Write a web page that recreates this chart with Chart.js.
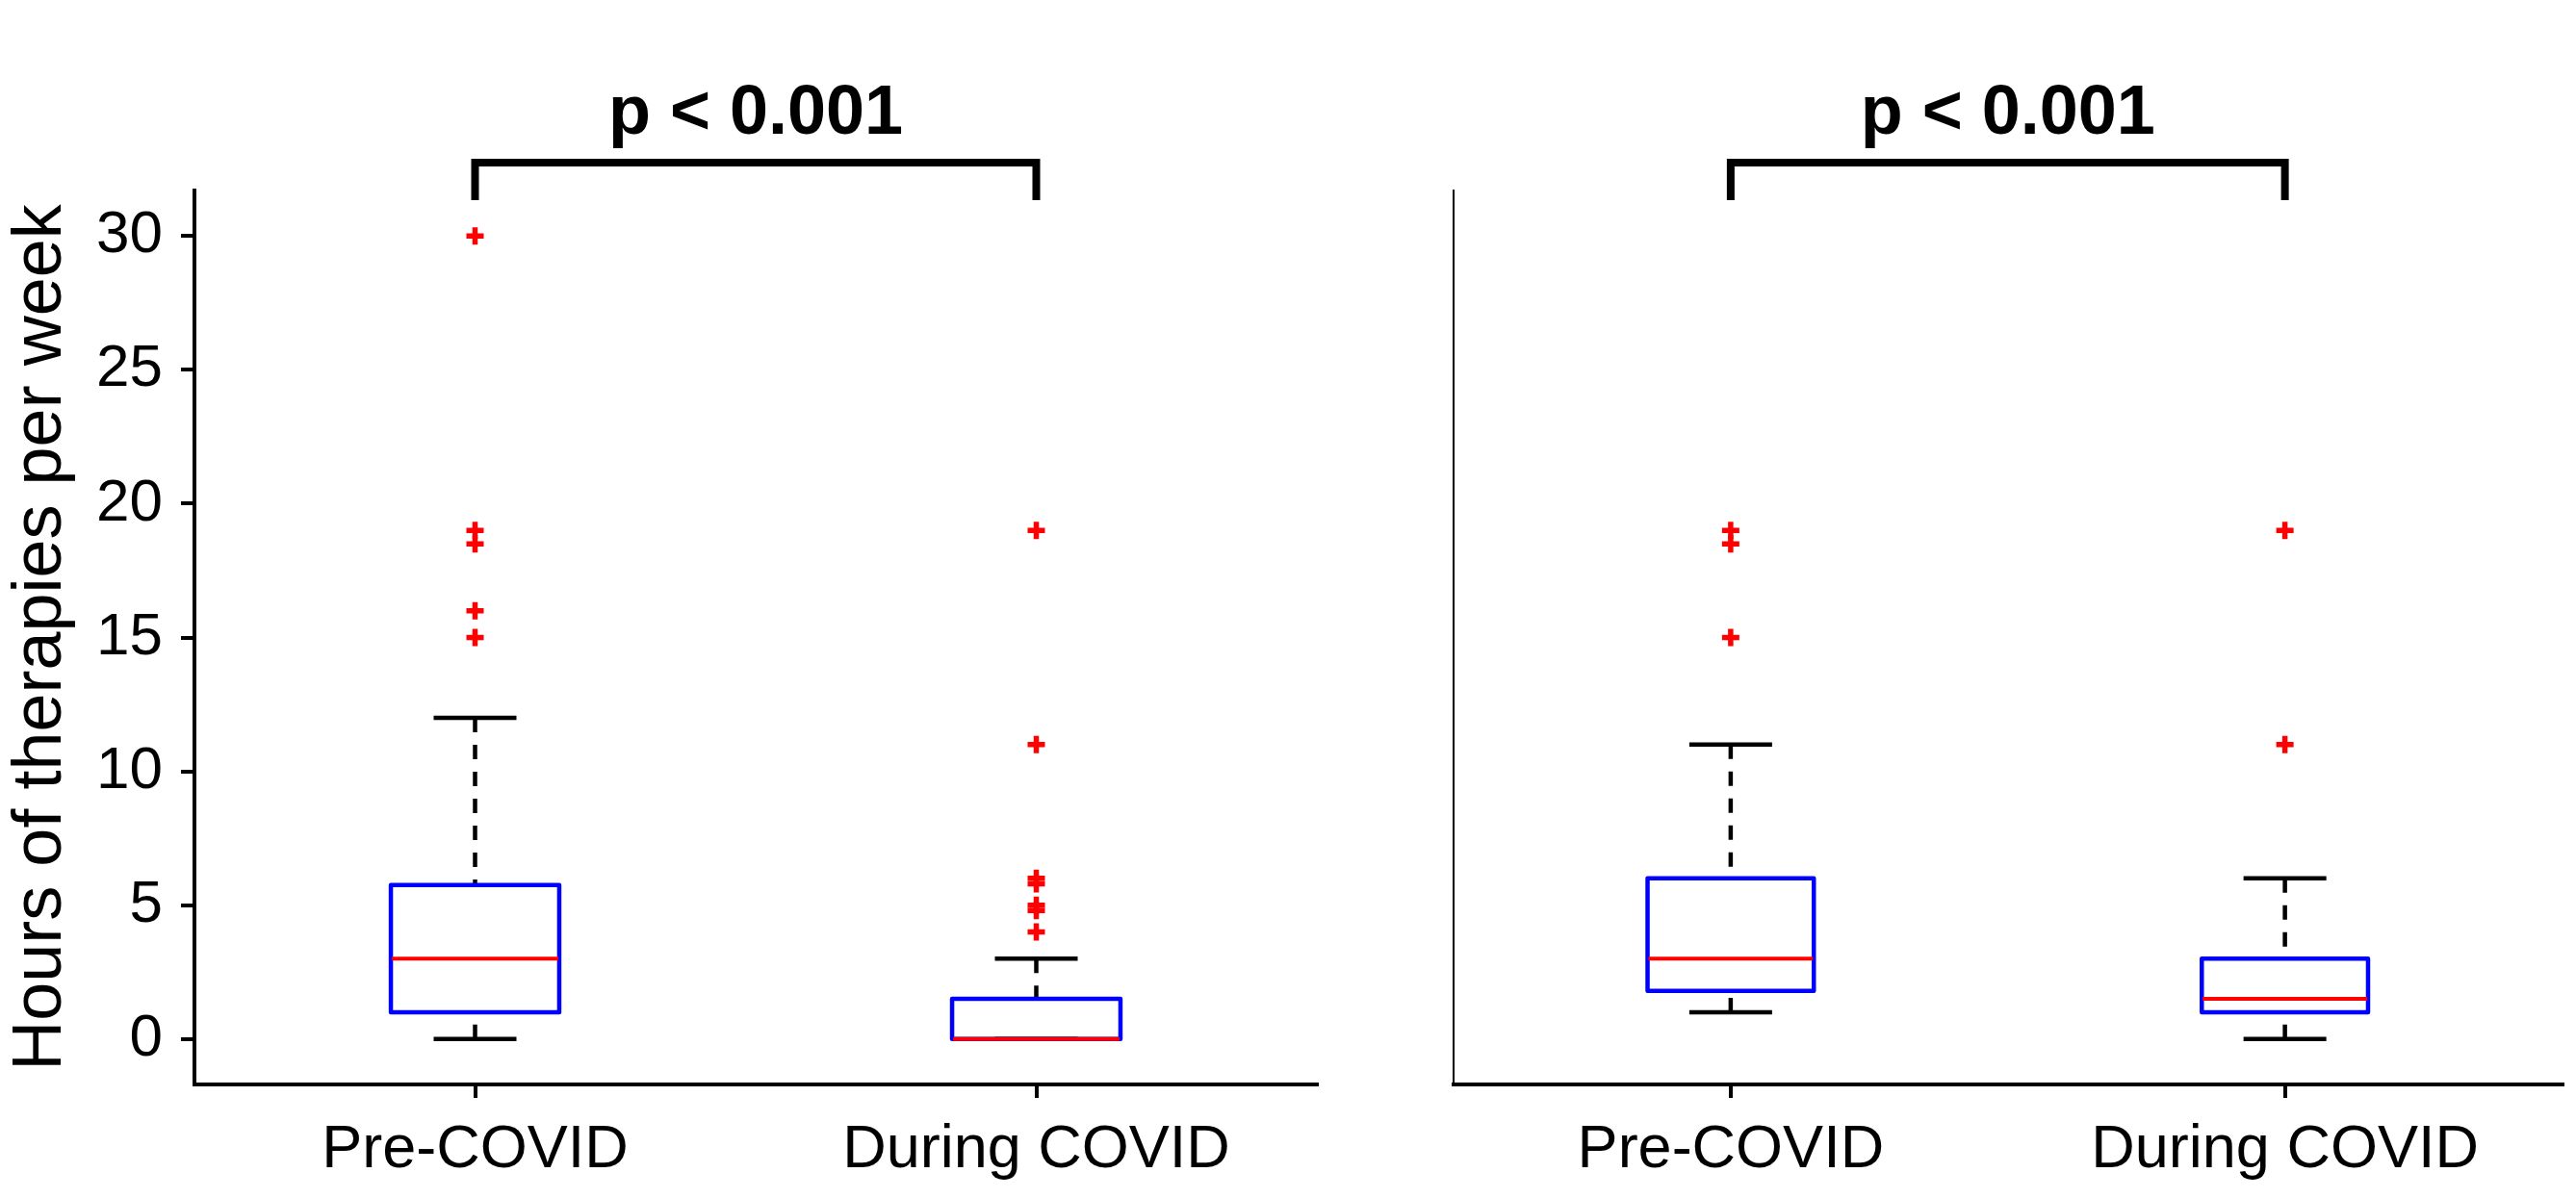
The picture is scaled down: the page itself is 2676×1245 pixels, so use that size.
<!DOCTYPE html>
<html>
<head>
<meta charset="utf-8">
<script src="https://cdn.jsdelivr.net/npm/chart.js@4/dist/chart.umd.min.js"></script>
<style>
  body { margin: 0; background: #fff; }
  #leftWrap { position: absolute; left: 0; top: 0; }
  #rightWrap { position: absolute; left: 1400px; top: 0; }
</style>
</head>
<body>
<div id="leftWrap"><canvas id="leftChart" width="1400" height="1245"></canvas></div>
<div id="rightWrap"><canvas id="rightChart" width="1276" height="1245"></canvas></div>
<script>
const categories = ['Pre-COVID', 'During COVID'];
const yTicks = [0, 5, 10, 15, 20, 25, 30];
const pLabel = 'p < 0.001';

// left panel
const leftLow = [0, 0];
const leftQ1 = [1, 0];
const leftMedian = [3, 0];
const leftQ3 = [5.75, 1.5];
const leftHigh = [12, 3];
const leftOutPre = [30, 19, 18.5, 16, 15];
const leftOutDuring = [19, 11, 6, 5.8, 5, 4.8, 4];

// right panel
const rightLow = [1, 0];
const rightQ1 = [1.8, 1];
const rightMedian = [3, 1.5];
const rightQ3 = [6, 3];
const rightHigh = [11, 6];
const rightOutPre = [19, 18.5, 15];
const rightOutDuring = [19, 11];

Chart.defaults.font.family = '"Liberation Sans", Arial, sans-serif';
Chart.defaults.color = '#000';

// whiskers, caps, box outline, medians and the significance bracket
const boxParts = {
  id: 'boxParts',
  beforeDatasetsDraw(chart, args, opts) {
    const ctx = chart.ctx;
    const x = chart.scales.x, y = chart.scales.y;
    ctx.save();
    ctx.strokeStyle = '#000';
    ctx.lineWidth = 4.5;
    opts.low.forEach((lo, i) => {
      const px = x.getPixelForValue(i);
      ctx.setLineDash([15, 13]);
      ctx.beginPath();
      ctx.moveTo(px, y.getPixelForValue(opts.high[i]));
      ctx.lineTo(px, y.getPixelForValue(opts.q3[i]));
      ctx.moveTo(px, y.getPixelForValue(lo));
      ctx.lineTo(px, y.getPixelForValue(opts.q1[i]));
      ctx.stroke();
      ctx.setLineDash([]);
      ctx.beginPath();
      [lo, opts.high[i]].forEach(v => {
        const py = y.getPixelForValue(v);
        ctx.moveTo(px - 43, py);
        ctx.lineTo(px + 43, py);
      });
      ctx.stroke();
    });
    ctx.restore();
  },
  afterDatasetsDraw(chart, args, opts) {
    const ctx = chart.ctx;
    const y = chart.scales.y;
    const bars = chart.getDatasetMeta(0).data;
    ctx.save();
    bars.forEach((bar, i) => {
      const half = bar.width / 2;
      const top = y.getPixelForValue(opts.q3[i]);
      const bottom = y.getPixelForValue(opts.q1[i]);
      ctx.strokeStyle = '#0000ff';
      ctx.lineWidth = 4.5;
      ctx.lineJoin = 'round';
      ctx.strokeRect(bar.x - half, top, half * 2, bottom - top);
      const py = y.getPixelForValue(opts.median[i]);
      ctx.strokeStyle = '#ff0000';
      ctx.lineWidth = 4;
      ctx.beginPath();
      ctx.moveTo(bar.x - half + 1, py);
      ctx.lineTo(bar.x + half - 1, py);
      ctx.stroke();
    });
    ctx.restore();
  },
  afterDraw(chart) {
    const ctx = chart.ctx;
    const x = chart.scales.x;
    const top = chart.chartArea.top;
    const x0 = x.getPixelForValue(0), x1 = x.getPixelForValue(1);
    ctx.save();
    ctx.strokeStyle = '#000';
    ctx.lineWidth = 8;
    ctx.lineJoin = 'miter';
    ctx.beginPath();
    ctx.moveTo(x0, top + 10);
    ctx.lineTo(x0, top - 29);
    ctx.lineTo(x1, top - 29);
    ctx.lineTo(x1, top + 10);
    ctx.stroke();
    ctx.fillStyle = '#000';
    ctx.font = 'bold 72px "Liberation Sans", Arial, sans-serif';
    ctx.textAlign = 'center';
    ctx.textBaseline = 'alphabetic';
    ctx.fillText(pLabel, (x0 + x1) / 2, top - 59);
    ctx.restore();
  }
};

function outlierPoints(pre, during) {
  return pre.map(v => ({x: categories[0], y: v}))
    .concat(during.map(v => ({x: categories[1], y: v})));
}

function makeChart(id, stats, isLeft) {
  const ctx = document.getElementById(id).getContext('2d');
  return new Chart(ctx, {
    type: 'bar',
    data: {
      labels: categories,
      datasets: [{
        // box body (outline stroked by the plugin, centred on the quartiles)
        data: stats.q1.map((v, i) => [v, stats.q3[i]]),
        backgroundColor: 'rgba(0,0,0,0)',
        borderWidth: 0,
        barPercentage: 0.3,
        categoryPercentage: 1
      }, {
        type: 'line',
        data: outlierPoints(stats.outPre, stats.outDuring),
        showLine: false,
        pointStyle: 'cross',
        pointRadius: 9,
        pointBorderWidth: 5.5,
        borderColor: '#ff0000',
        pointBorderColor: '#ff0000'
      }]
    },
    options: {
      responsive: false,
      animation: false,
      devicePixelRatio: 1,
      layout: { padding: { top: 198, right: isLeft ? 32 : 6, left: 0, bottom: 0 } },
      plugins: {
        legend: { display: false },
        tooltip: { enabled: false },
        boxParts: stats
      },
      scales: {
        x: {
          offset: true,
          grid: { display: true, offset: false, drawOnChartArea: false, tickLength: 14, lineWidth: 4, color: '#000' },
          border: { display: true, width: 4, color: '#000' },
          ticks: { font: { size: 63 }, padding: 17, maxRotation: 0, autoSkip: false },
          afterFit(s) { s.height = 118; }
        },
        y: {
          min: -1.7,
          max: 31.7,
          afterBuildTicks(s) { s.ticks = yTicks.map(v => ({ value: v })); },
          grid: { display: isLeft, drawOnChartArea: false, tickLength: 14, lineWidth: 4, color: '#000' },
          border: { display: true, width: isLeft ? 4 : 2, color: '#000' },
          ticks: { display: isLeft, font: { size: 62 }, padding: 19 },
          title: {
            display: isLeft,
            text: 'Hours of therapies per week',
            font: { size: 72 },
            padding: { top: 0, bottom: 0 }
          },
          afterFit(s) { s.width = isLeft ? 202 : 110; }
        }
      }
    },
    plugins: [boxParts]
  });
}

makeChart('leftChart', {
  low: leftLow, q1: leftQ1, median: leftMedian, q3: leftQ3, high: leftHigh,
  outPre: leftOutPre, outDuring: leftOutDuring
}, true);

makeChart('rightChart', {
  low: rightLow, q1: rightQ1, median: rightMedian, q3: rightQ3, high: rightHigh,
  outPre: rightOutPre, outDuring: rightOutDuring
}, false);
</script>
</body>
</html>
